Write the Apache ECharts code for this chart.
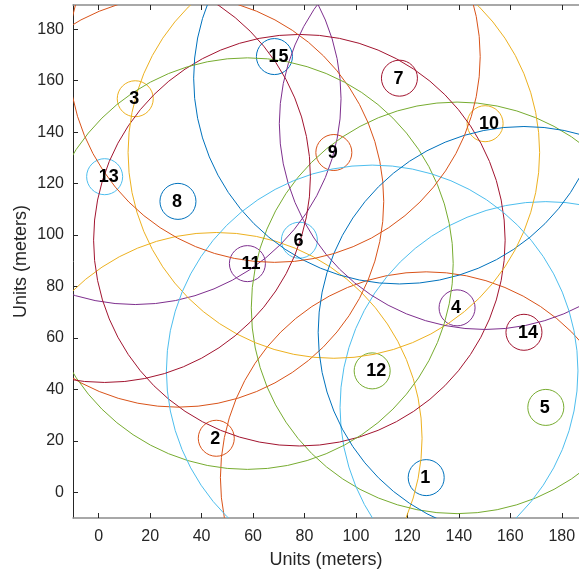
<!DOCTYPE html>
<html>
<head>
<meta charset="utf-8">
<script src="https://cdn.jsdelivr.net/npm/echarts@6/dist/echarts.min.js"></script>
<style>
html,body{margin:0;padding:0;background:#fff;}
#chart{width:579px;height:576px;}
</style>
</head>
<body>
<div id="chart"></div>
<script>
// ---- data ----
const nodeLabels = ['1','2','3','4','5','6','7','8','9','10','11','12','13','14','15'];
const nodeX = [127.3, 45.7, 14.2, 139.3, 173.8, 78.0, 116.9, 30.8, 91.4, 150.2, 57.8, 106.3, 2.3, 165.3, 68.3];
const nodeY = [5.7, 21.0, 153.0, 71.7, 33.0, 98.0, 161.0, 113.1, 132.1, 143.3, 88.9, 47.2, 122.7, 62.2, 169.4];
const nodeRadius = 7;     // small node circle radius (m)
const rangeRadius = 80;   // communication range radius (m)
const xTicks = [0, 20, 40, 60, 80, 100, 120, 140, 160, 180];
const yTicks = [0, 20, 40, 60, 80, 100, 120, 140, 160, 180];

// MATLAB default colour order
const palette = ['#0072BD','#D95319','#EDB120','#7E2F8E','#77AC30','#4DBEEE','#A2142F'];

const FONT = '"Liberation Sans", Arial, Helvetica, sans-serif';
const TXT = '#262626';

const smallData = nodeX.map((x, i) => [x, nodeY[i], nodeRadius]);
const rangeData = nodeX.map((x, i) => [x, nodeY[i], rangeRadius]);
const labelData = nodeX.map((x, i) => [x, nodeY[i], nodeLabels[i]]);

function circleRenderer(colorOffset) {
  return function (params, api) {
    const c = api.coord([api.value(0), api.value(1)]);
    const s = api.size([api.value(2), api.value(2)]);
    const r = (s[0] + s[1]) / 2;
    return {
      type: 'circle',
      shape: { cx: c[0], cy: c[1], r: r },
      style: {
        fill: 'none',
        stroke: palette[(params.dataIndex + colorOffset) % palette.length],
        lineWidth: 1
      },
      silent: true
    };
  };
}

const chart = echarts.init(document.getElementById('chart'), null, { renderer: 'canvas' });

const baseX = {
  type: 'value',
  min: -10,
  max: 186.7,
  splitLine: { show: false },
  axisLine: { show: true, onZero: false, lineStyle: { color: '#8c8c8c', width: 1.5 } },
  axisTick: { show: true, inside: true, length: 5, customValues: xTicks, lineStyle: { color: TXT, width: 1 } }
};

chart.setOption({
  animation: false,
  backgroundColor: '#ffffff',
  grid: { left: 73, right: 0, top: 5, bottom: 58 },
  xAxis: [
    Object.assign({}, baseX, {
      position: 'bottom',
      name: 'Units (meters)',
      nameLocation: 'middle',
      nameGap: 33,
      nameMoveOverlap: false,
      nameTextStyle: { fontFamily: FONT, fontSize: 18, color: TXT },
      axisLabel: { customValues: xTicks, fontFamily: FONT, fontSize: 16, color: TXT, margin: 11 }
    }),
    Object.assign({}, baseX, {
      position: 'top',
      axisLabel: { show: false }
    })
  ],
  yAxis: {
    type: 'value',
    min: -10,
    max: 189.45,
    splitLine: { show: false },
    name: 'Units (meters)',
    nameLocation: 'middle',
    nameGap: 43,
    nameMoveOverlap: false,
    nameTextStyle: { fontFamily: FONT, fontSize: 18, color: TXT },
    axisLine: { show: true, onZero: false, lineStyle: { color: TXT, width: 1 } },
    axisTick: { show: true, inside: true, length: 5, customValues: yTicks, lineStyle: { color: TXT, width: 1 } },
    axisLabel: { customValues: yTicks, fontFamily: FONT, fontSize: 16, color: TXT, margin: 9 }
  },
  series: [
    {
      type: 'custom',
      name: 'nodes',
      xAxisIndex: 0,
      clip: true,
      z: 2,
      data: smallData,
      renderItem: circleRenderer(0)
    },
    {
      type: 'custom',
      name: 'range',
      xAxisIndex: 0,
      clip: true,
      z: 3,
      data: rangeData,
      renderItem: circleRenderer(1)
    },
    {
      type: 'custom',
      name: 'labels',
      xAxisIndex: 0,
      z: 4,
      data: labelData,
      renderItem: function (params, api) {
        const c = api.coord([api.value(0), api.value(1)]);
        return {
          type: 'text',
          x: c[0] - 6,
          y: c[1] + 0.5,
          style: {
            text: nodeLabels[params.dataIndex],
            fill: '#000000',
            font: 'bold 18px ' + FONT,
            textAlign: 'left',
            textVerticalAlign: 'middle'
          },
          silent: true
        };
      }
    }
  ]
});
</script>
</body>
</html>
